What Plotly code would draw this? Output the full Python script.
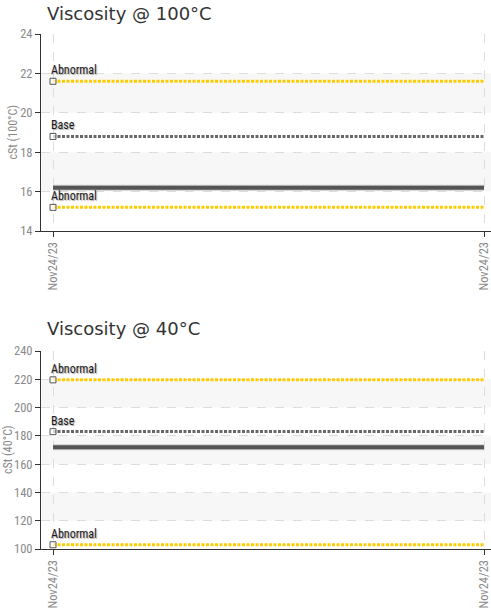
import plotly.graph_objects as go

# ---- data ----
dates = ["Nov24/23", "Nov24/23"]
x_idx = [0, 1]

visc100 = [16.2, 16.2]
visc100_base = 18.8
visc100_abn_hi = 21.6
visc100_abn_lo = 15.2

visc40 = [172, 172]
visc40_base = 183
visc40_abn_hi = 219.6
visc40_abn_lo = 103

y100_ticks = [14, 16, 18, 20, 22, 24]
y40_ticks = [100, 120, 140, 160, 180, 200, 220, 240]

W, H = 491, 613
L = 41
PW = W - L

def py(p):
    return 1 - p / H

fig = go.Figure()

NARROW = "Liberation Sans Narrow, Roboto Condensed, DejaVu Sans Condensed, Roboto"
TICKFONT = dict(family=NARROW, size=12.5, color="#8a8a8a")
LABELFONT = dict(family=NARROW, size=12, color="#1a1a1a",
                 shadow="1px 1px 1px #aaaaaa")

YELLOW = "#ffcc00"
GRAY = "#666666"

def add_panel(xa, ya, data, base, hi, lo):
    for val, col, name in [(hi, YELLOW, "Abnormal"), (base, GRAY, "Base"), (lo, YELLOW, "Abnormal")]:
        fig.add_trace(go.Scatter(
            x=x_idx, y=[val, val], xaxis=xa, yaxis=ya, mode="lines+markers",
            line=dict(color=col, width=3, dash="3px,1.5px"),
            marker=dict(symbol="square", size=[6, 0], color="white",
                        line=dict(color="#111111", width=1)),
            showlegend=False, hoverinfo="skip", cliponaxis=False))
        fig.add_annotation(x=0, y=val, xref=xa, yref=ya, text=name,
                           showarrow=False, xanchor="left", yanchor="bottom",
                           xshift=-4, yshift=2, font=LABELFONT)
    fig.add_trace(go.Scatter(
        x=x_idx, y=data, xaxis=xa, yaxis=ya, mode="lines",
        line=dict(color="#cccccc", width=6), showlegend=False, hoverinfo="skip"))
    fig.add_trace(go.Scatter(
        x=x_idx, y=data, xaxis=xa, yaxis=ya, mode="lines",
        line=dict(color="#555555", width=4), showlegend=False, hoverinfo="skip"))

add_panel("x", "y", visc100, visc100_base, visc100_abn_hi, visc100_abn_lo)
add_panel("x2", "y2", visc40, visc40_base, visc40_abn_hi, visc40_abn_lo)

def bands(ticks, xr, yr):
    for i in range(1, len(ticks) - 1, 2):
        fig.add_shape(type="rect", xref=xr + " domain", yref=yr, x0=0, x1=1,
                      y0=ticks[i], y1=ticks[i + 1], fillcolor="#f7f7f7",
                      line=dict(width=0), layer="below")

bands(y100_ticks, "x", "y")
bands(y40_ticks, "x2", "y2")

xrange = [-12 / 431, 1 + 7 / 431]
xcommon = dict(range=xrange, tickmode="array", tickvals=x_idx, ticktext=dates,
               tickangle=-90, tickfont=TICKFONT, showline=True, linecolor="#333333",
               linewidth=1, ticks="outside", ticklen=5, tickcolor="#333333",
               showgrid=True, gridcolor="#dddddd", griddash="dash", gridwidth=1,
               zeroline=False, fixedrange=True, automargin=False,
               ticklabeloverflow="allow")
ycommon = dict(tickfont=TICKFONT, showline=True, linecolor="#333333", linewidth=1,
               ticks="outside", ticklen=5, tickcolor="#333333",
               showgrid=True, gridcolor="#dddddd", griddash="dash", gridwidth=1,
               zeroline=False, fixedrange=True, automargin=False,
               ticklabeloverflow="allow")

fig.update_layout(
    width=W, height=H,
    margin=dict(l=L, r=0, t=0, b=0, autoexpand=False),
    plot_bgcolor="rgba(0,0,0,0)", paper_bgcolor="white",
    xaxis=dict(domain=[0, 1], anchor="y", **xcommon),
    yaxis=dict(domain=[py(231), py(34)], anchor="x", range=[14, 24],
               tickvals=y100_ticks, **ycommon),
    xaxis2=dict(domain=[0, 1], anchor="y2", **xcommon),
    yaxis2=dict(domain=[py(549), py(351)], anchor="x2", range=[100, 240],
                tickvals=y40_ticks, **ycommon),
)

TITLEFONT = dict(family="DejaVu Sans", size=18, color="#333333")
fig.add_annotation(x=(45 - L) / PW, y=py(13), xref="paper", yref="paper",
                   text="Viscosity @ 100°C", showarrow=False, xanchor="left",
                   yanchor="middle", font=TITLEFONT)
fig.add_annotation(x=(45 - L) / PW, y=py(328), xref="paper", yref="paper",
                   text="Viscosity @ 40°C", showarrow=False, xanchor="left",
                   yanchor="middle", font=TITLEFONT)

AXTITLE = dict(family=NARROW, size=12, color="#8a8a8a")
fig.add_annotation(x=(12 - L) / PW, y=py((34 + 231) / 2), xref="paper", yref="paper",
                   text="cSt (100°C)", showarrow=False, textangle=-90,
                   xanchor="center", yanchor="middle", font=AXTITLE)
fig.add_annotation(x=(8 - L) / PW, y=py((351 + 549) / 2), xref="paper", yref="paper",
                   text="cSt (40°C)", showarrow=False, textangle=-90,
                   xanchor="center", yanchor="middle", font=AXTITLE)

fig.write_html("out.html", config={"displayModeBar": False},
               post_script="document.body.style.margin='0';document.body.style.overflow='hidden';")
